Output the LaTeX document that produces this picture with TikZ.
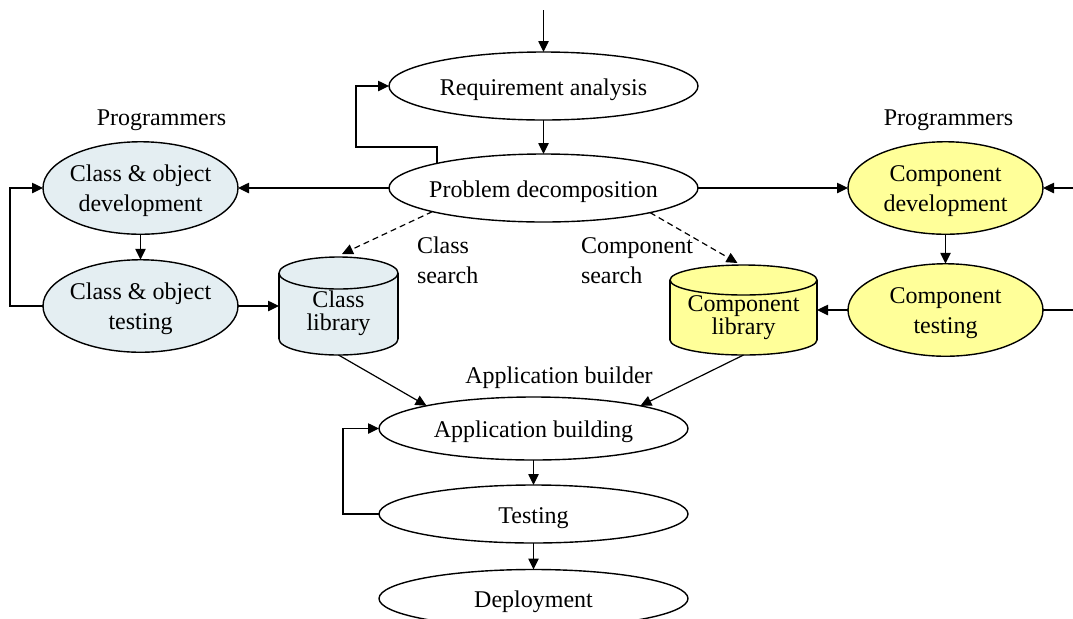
\documentclass[tikz,border=0pt]{standalone}
\usepackage{fontspec}
\setmainfont{Liberation Serif}
\usetikzlibrary{arrows.meta,shapes.geometric,calc}
\definecolor{classfill}{RGB}{228,238,242}
\definecolor{compfill}{RGB}{255,255,153}
\newcommand{\lowertext}{\rule{0pt}{12pt}}
\newcommand{\twolines}[2]{\begin{tabular}{@{}c@{}}\rule{0pt}{13.2pt}#1\\#2\end{tabular}}
\begin{document}
\begin{tikzpicture}[x=0.5pt,y=-0.5pt,
  font=\fontsize{12}{15}\selectfont,
  every node/.style={inner sep=0pt, outer sep=0pt},
  proc/.style={ellipse, draw, line width=0.7pt, inner xsep=-10pt},
  oneline/.style={proc, execute at begin node=\lowertext},
  wideproc/.style={oneline, minimum width=154.5pt, minimum height=34pt},
  appproc/.style={oneline, minimum width=154.5pt, minimum height=31.5pt},
  smallproc/.style={proc, minimum width=97.5pt, minimum height=45pt},
  libbox/.style={rectangle, minimum width=#1},
  libtext/.style={align=center, font=\fontsize{12}{11.5}\selectfont},
  cylline/.style={line width=0.7pt},
  arr/.style={-{Triangle[length=5.5pt,width=5.2pt]}, line width=0.6pt},
  plain/.style={line width=0.6pt},
  dasharr/.style={arr, dash pattern=on 3pt off 2pt},
  lbl/.style={anchor=base},
]
\useasboundingbox (0,0) rectangle (1073,618);
\clip (0,0) rectangle (1073,618);

% ---- cylinders (drawn first) ----
% Class library
\draw[cylline, fill=classfill] (338.5,339) ellipse [x radius=29.75pt, y radius=8pt];
\fill[classfill] (279,273) rectangle (398,339);
\draw[cylline] (279,273) -- (279,339) (398,273) -- (398,339);
\draw[cylline, fill=classfill] (338.5,273) ellipse [x radius=29.75pt, y radius=8pt];
% Component library
\draw[cylline, fill=compfill] (743.5,340) ellipse [x radius=36.75pt, y radius=7.5pt];
\fill[compfill] (670,280) rectangle (817,340);
\draw[cylline] (670,280) -- (670,340) (817,280) -- (817,340);
\draw[cylline, fill=compfill] (743.5,280) ellipse [x radius=36.75pt, y radius=7.5pt];

% ---- nodes ----
\node[wideproc] (req) at (543.5,86) {Requirement analysis};
\node[wideproc] (pd) at (543.5,188) {Problem decomposition};
\node[smallproc, fill=classfill] (cdev) at (140.5,188) {\twolines{Class \& object}{development}};
\node[smallproc, fill=classfill] (ctest) at (140.5,306) {\twolines{Class \& object}{testing}};
\node[smallproc, fill=compfill] (kdev) at (945.5,188) {\twolines{Component}{development}};
\node[smallproc, fill=compfill] (ktest) at (945.5,310) {\twolines{Component}{testing}};
\node[appproc] (app) at (533.5,428.5) {Application building};
\node[oneline, minimum width=154.5pt, minimum height=29pt] (test) at (533.5,514) {Testing};
\node[oneline, minimum width=154.5pt, minimum height=29pt] (dep) at (533.5,598.5) {Deployment};

\node[libbox=59.5pt, minimum height=49pt] (clib) at (338.5,306) {};
\node[libtext] (clibtext) at (338.5,313) {Class\\library};
\node[libbox=73.5pt, minimum height=45pt] (klib) at (743.5,310) {};
\node[libtext] (klibtext) at (743.5,318) {Component\\library};

\node[lbl] (progl) at (161.5,125) {Programmers};
\node[lbl] (progr) at (948.5,125) {Programmers};
\node[anchor=base west] (csearch) at (417,253) {\begin{tabular}[t]{@{}l@{}}Class\\search\end{tabular}};
\node[anchor=base west] (ksearch) at (581,253) {\begin{tabular}[t]{@{}l@{}}Component\\search\end{tabular}};
\node[lbl] (appb) at (559,383) {Application builder};

\coordinate (topin) at (543.5,10);
\coordinate (rin) at (1073,188);
\coordinate (rout) at (1073,310);

% ---- connectors ----
\draw[arr] (topin) -- (req.north);
\draw[arr] (req.south) -- (pd.north);
\draw[arr] (pd.167.5) |- (356,147) |- (req.west);
\draw[arr] (pd.west) -- (cdev.east);
\draw[arr] (pd.east) -- (kdev.west);
\draw[arr] (cdev.south) -- (ctest.north);
\draw[arr] (ctest.west) -- ++(-33,0) |- (cdev.west);
\draw[arr] (ctest.east) -- (clib.west);
\draw[arr] (kdev.south) -- (ktest.north);
\draw[arr] (rin) -- (kdev.east);
\draw[plain] (ktest.east) -- (rout);
\draw[arr] (ktest.west) -- (klib.east);
\draw[dasharr] (pd.192) -- ([xshift=1.75pt,yshift=1.5pt]clib.north);
\draw[dasharr] (pd.347) -- ([xshift=-3pt,yshift=1pt]klib.north);
\draw[arr] (clib.south) -- (app.168);
\draw[arr] (klib.south) -- (app.12);
\draw[arr] (app.south) -- (test.north);
\draw[arr] (test.south) -- (dep.north);
\draw[arr] (test.west) -- ++(-36,0) |- (app.west);
\end{tikzpicture}
\end{document}
